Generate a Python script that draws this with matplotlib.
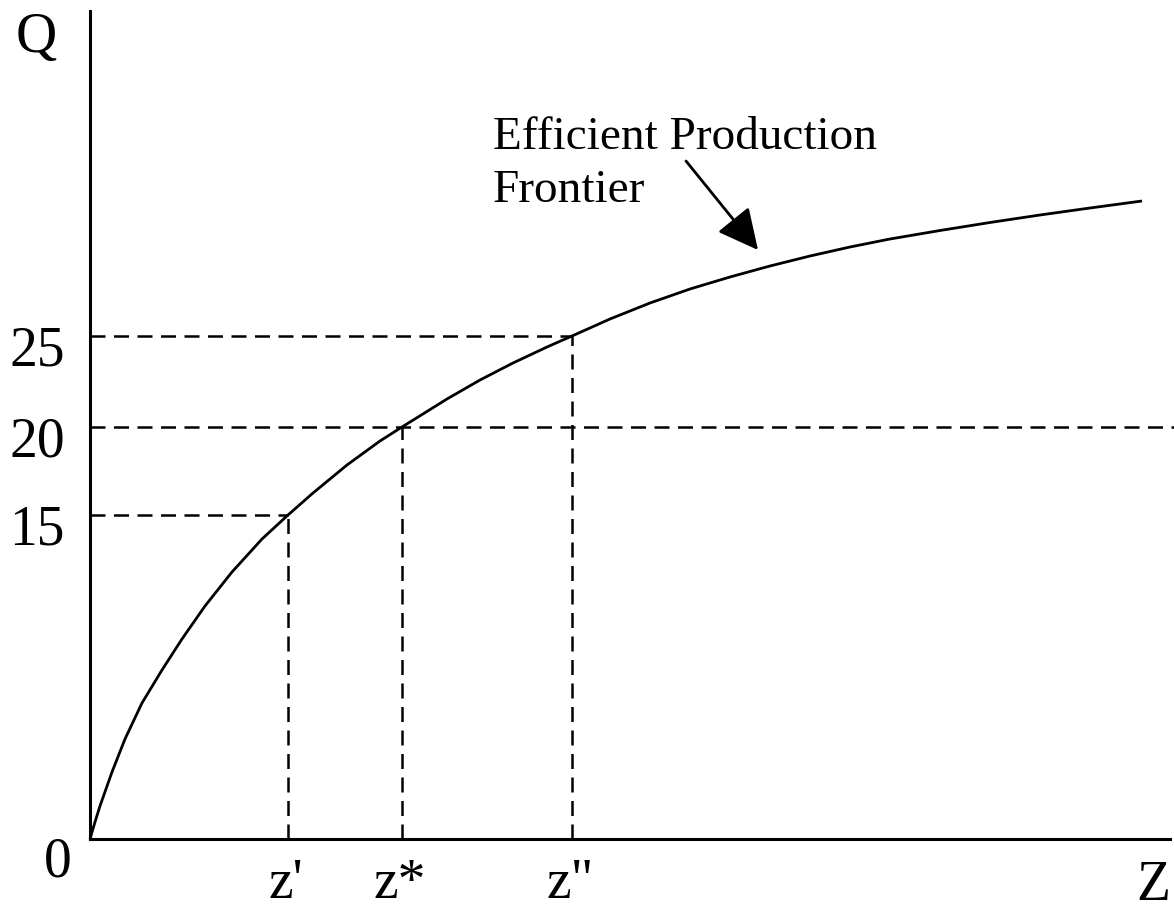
import numpy as np
import matplotlib
matplotlib.use('Agg')
import matplotlib.pyplot as plt

# Chart data (in chart units, origin at the corner of the axes)
z_curve = [0, 5, 10, 22, 35, 52, 72, 92, 115, 142, 172, 198, 223, 257, 290, 312,
           357, 390, 423, 457, 482, 520, 560, 600, 640, 680, 720, 760, 800,
           850, 900, 950, 1000, 1052]
q_curve = [0, 17, 33, 67, 100, 136, 169, 200, 233, 267, 300, 324, 346, 374, 398, 412,
           440, 459, 476, 492, 503, 520, 536, 550, 562, 573, 583, 592, 600,
           608.5, 616.5, 624, 631, 638]

z_ticks = [198, 312, 482]
z_labels = ["z'", "z*", 'z"']
q_ticks = [324, 412, 503]
q_labels = ['15', '20', '25']

# which z each horizontal guide runs to (None = to the right edge)
q_guide_end = [198, None, 482]

z_max = 1080
q_max = 828

plt.rcParams['font.family'] = ['Liberation Serif', 'DejaVu Serif']

fig = plt.figure(figsize=(11.74, 9.12), dpi=100)
ax = fig.add_axes([90 / 1174, 72 / 912, 1080 / 1174, 828 / 912])
ax.set_xlim(0, z_max)
ax.set_ylim(0, q_max)

for side in ['top', 'right']:
    ax.spines[side].set_visible(False)
for side in ['left', 'bottom']:
    ax.spines[side].set_linewidth(2.2)
ax.set_xticks([])
ax.set_yticks([])

# Frontier curve
ax.plot(z_curve, q_curve, color='black', lw=2.0, solid_joinstyle='round',
        solid_capstyle='butt', clip_on=False)

dash = dict(color='black', lw=1.8, dashes=(6, 3.4), clip_on=False)

# Dashed guides
for q, z_end in zip(q_ticks, q_guide_end):
    if z_end is None:
        z_end = z_max + 4
    ax.plot([0, z_end], [q, q], **dash)

for z, q in zip(z_ticks, q_ticks):
    ax.plot([z, z], [0, q], **dash)

# Tick labels
for q, lab in zip(q_ticks, q_labels):
    ax.annotate(lab, xy=(0, q), xytext=(-25, -29), textcoords='offset pixels',
                ha='right', va='baseline', fontsize=40)

for z, lab in zip(z_ticks, z_labels):
    ax.annotate(lab, xy=(z, 0), xytext=(-2, -58), textcoords='offset pixels',
                ha='center', va='baseline', fontsize=40)

ax.annotate('0', xy=(0, 0), xytext=(-18, -37), textcoords='offset pixels',
            ha='right', va='baseline', fontsize=40)
ax.annotate('Q', xy=(0, q_max), xytext=(-33, -40), textcoords='offset pixels',
            ha='right', va='baseline', fontsize=41)
ax.annotate('Z', xy=(z_max, 0), xytext=(-34, -60), textcoords='offset pixels',
            ha='left', va='baseline', fontsize=40, annotation_clip=False)

# Frontier label and arrow
ax.text(403, 691, 'Efficient Production', fontsize=34, ha='left', va='baseline')
ax.text(403, 638, 'Frontier', fontsize=34, ha='left', va='baseline')
ax.annotate('', xy=(668, 589), xytext=(596, 678),
            arrowprops=dict(arrowstyle='-|>,head_length=1.0,head_width=0.5',
                            mutation_scale=25, color='black', lw=2.0,
                            shrinkA=0, shrinkB=0))

fig.savefig('out.png', dpi=100)
